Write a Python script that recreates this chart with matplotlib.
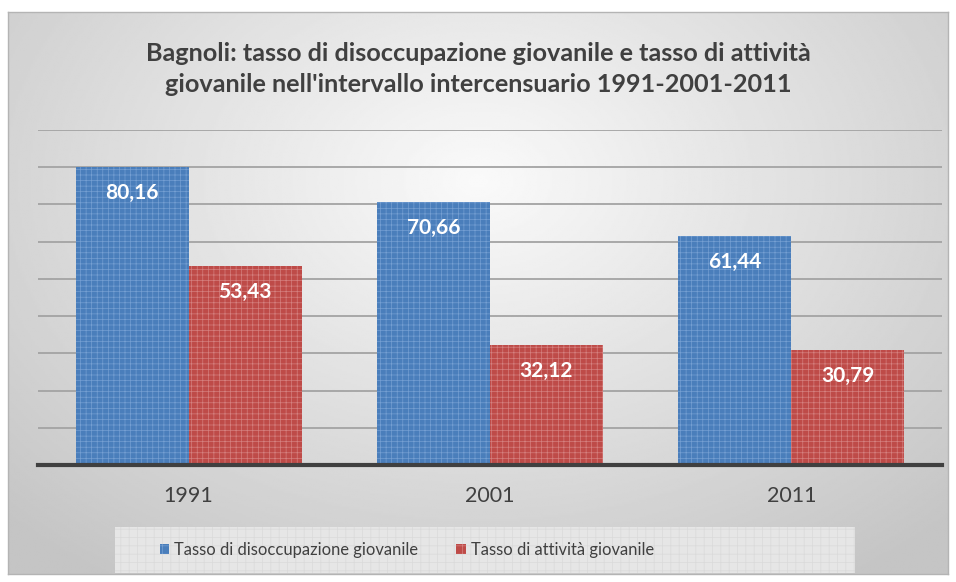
import matplotlib.pyplot as plt
import numpy as np
from matplotlib.patches import Patch, Rectangle

plt.rcParams['font.family'] = ['Lato', 'DejaVu Sans']
plt.rcParams['hatch.linewidth'] = 0.5

anni = ["1991", "2001", "2011"]
disoccupazione = [80.16, 70.66, 61.44]
attivita = [53.43, 32.12, 30.79]
serie = ["Tasso di disoccupazione giovanile", "Tasso di attività giovanile"]

BLU = "#4a7ebb"
BLU_TRAMA = "#759fd2"
ROSSO = "#be4b48"
ROSSO_TRAMA = "#d5817f"
TESTO = "#404040"

fig = plt.figure(figsize=(9.56, 5.82), dpi=100)
fig.patch.set_facecolor("white")

# sfondo grigio sfumato con riquadro
bg = fig.add_axes([8 / 956, 8 / 582, 940 / 956, 562 / 582], zorder=-5)
yy, xx = np.mgrid[0:1:300j, 0:1:500j]
r = np.sqrt(((xx - 0.5) / 0.75) ** 2 + ((yy - 0.3) / 0.9) ** 2)
grad = np.clip(0.98 - 0.22 * r, 0.77, 0.98)
bg.imshow(grad, cmap="gray", vmin=0, vmax=1, aspect="auto",
          extent=[0, 1, 0, 1], origin="upper")
bg.set_xticks([])
bg.set_yticks([])
for s in bg.spines.values():
    s.set_color("#b4b4b4")
    s.set_linewidth(1)

ax = fig.add_axes([38 / 956, (582 - 465) / 582, 904 / 956, 335 / 582])
ax.set_facecolor("none")

x = np.arange(len(anni))
w = 0.375
b1 = ax.bar(x - w / 2, disoccupazione, w, color=BLU, edgecolor=BLU_TRAMA,
            hatch="+++", linewidth=0, zorder=3)
b2 = ax.bar(x + w / 2, attivita, w, color=ROSSO, edgecolor=ROSSO_TRAMA,
            hatch="+++", linewidth=0, zorder=3)

for bars, vals in ((b1, disoccupazione), (b2, attivita)):
    for rect, v in zip(bars, vals):
        ax.annotate(f"{v:.2f}".replace(".", ","),
                    (rect.get_x() + rect.get_width() / 2, v),
                    xytext=(0, -26), textcoords="offset pixels",
                    ha="center", va="center", color="white",
                    fontsize=15, fontweight="bold", zorder=4)

ax.set_ylim(0, 90)
ax.set_xlim(-0.5, 2.5)
ax.set_yticks(np.arange(10, 100, 10))
ax.yaxis.grid(True, color="#a3a3a3", linewidth=1.3, zorder=0)
ax.set_yticklabels([])
ax.tick_params(axis="y", length=0)
ax.tick_params(axis="x", length=0, pad=15, labelsize=15.5, labelcolor=TESTO)
ax.set_xticks(x)
ax.set_xticklabels(anni)
for side in ("top", "right", "left"):
    ax.spines[side].set_visible(False)
ax.spines["bottom"].set_color("#404040")
ax.spines["bottom"].set_linewidth(3)
ax.spines["bottom"].set_zorder(5)

fig.text(0.5, 1 - 69 / 582,
         "Bagnoli: tasso di disoccupazione giovanile e tasso di attività\n"
         "giovanile nell'intervallo intercensuario 1991-2001-2011",
         ha="center", va="center", fontsize=18.2, fontweight="bold",
         color=TESTO, linespacing=1.4)

# riquadro della legenda
fig.patches.append(Rectangle((115 / 956, 1 - 573 / 582), 740 / 956, 46 / 582,
                             transform=fig.transFigure, facecolor="#e6e6e6",
                             edgecolor="#dadada", hatch="++", linewidth=0,
                             zorder=-1))

handles = [Patch(facecolor=BLU, edgecolor=BLU_TRAMA, hatch="++", linewidth=0),
           Patch(facecolor=ROSSO, edgecolor=ROSSO_TRAMA, hatch="++", linewidth=0)]
fig.legend(handles, serie, loc="center", bbox_to_anchor=(407 / 956, 1 - 550 / 582),
           ncol=2, frameon=False, fontsize=11.9, handlelength=0.55,
           handleheight=0.55, handletextpad=0.35, columnspacing=2.3,
           labelcolor=TESTO)

fig.savefig("out.png", dpi=100)
